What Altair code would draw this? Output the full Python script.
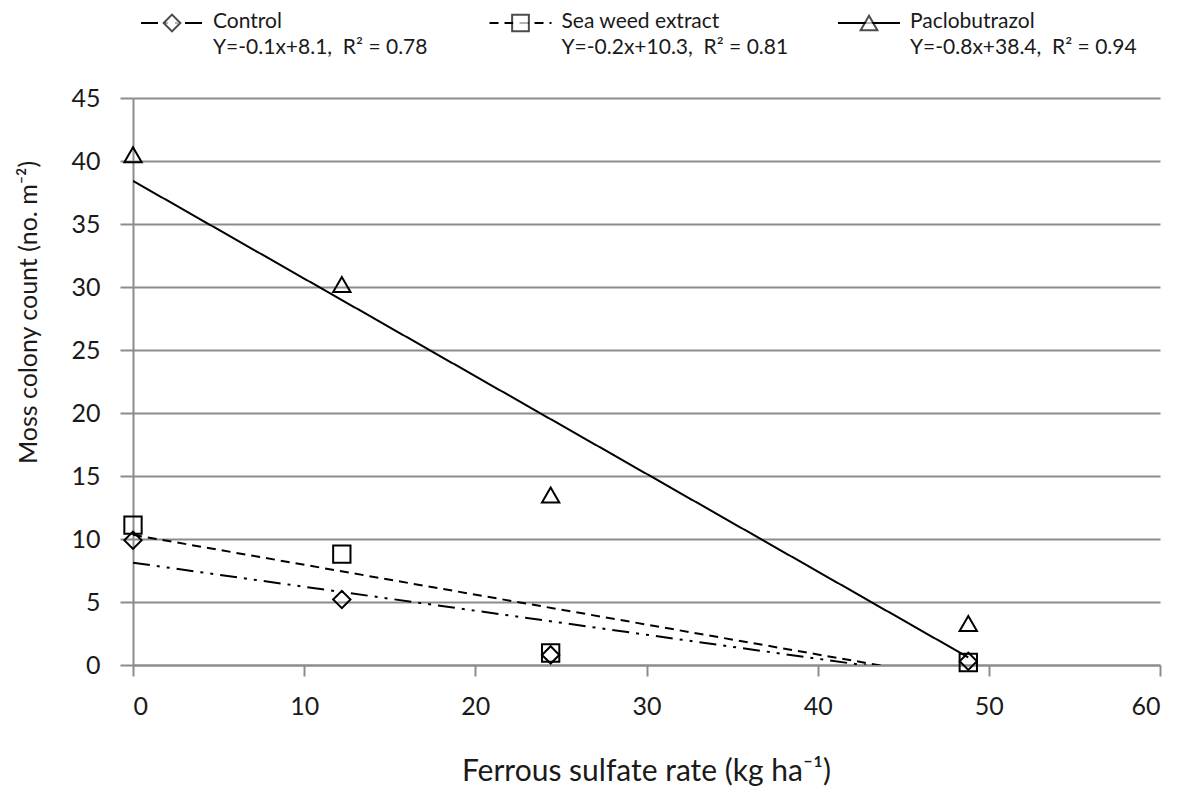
import altair as alt
import pandas as pd

# ---- data ----
series = ["Control", "Sea weed extract", "Paclobutrazol"]
rates = [0, 12.2, 24.4, 48.8]
control = [9.9, 5.2, 0.8, 0.3]
seaweed = [11.1, 8.8, 0.95, 0.2]
paclobutrazol = [40.5, 30.2, 13.5, 3.3]
equations = [
    "Y=-0.1x+8.1,\u00a0\u00a0R\u00b2 = 0.78",
    "Y=-0.2x+10.3,\u00a0\u00a0R\u00b2 = 0.81",
    "Y=-0.8x+38.4,\u00a0\u00a0R\u00b2 = 0.94",
]
x_ticks = [0, 10, 20, 30, 40, 50, 60]
y_ticks = [0, 5, 10, 15, 20, 25, 30, 35, 40, 45]

rows = []
for name, vals in zip(series, [control, seaweed, paclobutrazol]):
    for r, v in zip(rates, vals):
        rows.append({"series": name, "rate": r, "count": v})
df = pd.DataFrame(rows)
legend_df = pd.DataFrame({"series": series, "equation": equations})

FONT = "Lato"
GRAY = "#8c8c8c"
INK = "#1a1a1a"

shape_scale = alt.Scale(domain=series, range=["diamond", "square", "triangle-up"])
dash_scale = alt.Scale(domain=series, range=[[17, 7, 3, 7, 3, 7], [9, 6], [1, 0]])

x_enc = alt.X(
    "rate:Q",
    scale=alt.Scale(domain=[0, 60], nice=False, zero=True),
    axis=alt.Axis(
        values=x_ticks, grid=False, title="Ferrous sulfate rate (kg ha\u207b\u00b9)",
        domainColor=GRAY, domainWidth=2, tickColor=GRAY, tickWidth=2, tickSize=11,
        labelFont=FONT, labelFontSize=25, labelColor=INK, labelPadding=18,
        titleFont=FONT, titleFontSize=30, titleFontWeight="normal", titleColor=INK,
        titleX=513, titleY=106, titleBaseline="middle",
    ),
)
y_enc = alt.Y(
    "count:Q",
    scale=alt.Scale(domain=[0, 45], nice=False),
    axis=alt.Axis(
        values=y_ticks, grid=True, gridColor=GRAY, gridWidth=2,
        title="Moss colony count (no. m\u207b\u00b2)",
        domainColor=GRAY, domainWidth=2, tickColor=GRAY, tickWidth=2, tickSize=13,
        labelFont=FONT, labelFontSize=25, labelColor=INK, labelPadding=20,
        titleFont=FONT, titleFontSize=25, titleFontWeight="normal", titleColor=INK,
        titleX=-105, titleY=214, titleBaseline="middle", titleAngle=270,
    ),
)

base = alt.Chart(df)

trend = base.transform_regression(
    "rate", "count", groupby=["series"]
).mark_line(clip=True, color="black", strokeWidth=2).encode(
    x=x_enc,
    y=y_enc,
    strokeDash=alt.StrokeDash("series:N", scale=dash_scale, legend=None),
)

points = base.mark_point(filled=False, color="black", strokeWidth=2, size=300, opacity=1).encode(
    x=x_enc,
    y=y_enc,
    shape=alt.Shape("series:N", scale=shape_scale, legend=None),
)

main = alt.layer(trend, points)

# ---- legend row above the plot ----
leg_x = alt.X(
    "series:N",
    sort=series,
    scale=alt.Scale(type="point", domain=series, range=[80, 777], padding=0),
    axis=None,
)
leg_base = alt.Chart(legend_df)

leg_rule = leg_base.mark_rule(color="black", strokeWidth=2, xOffset=-72, x2Offset=-10).encode(
    x=leg_x,
    x2=alt.X2("series:N"),
    y=alt.value(-75),
    strokeDash=alt.StrokeDash("series:N", scale=dash_scale, legend=None),
)
leg_sym = leg_base.mark_point(filled=True, fill="white", stroke="black", strokeWidth=2, size=280, xOffset=-41).encode(
    x=leg_x,
    y=alt.value(-75),
    shape=alt.Shape("series:N", scale=shape_scale, legend=None),
)
leg_name = leg_base.mark_text(align="left", baseline="middle", font=FONT, fontSize=21, color=INK).encode(
    x=leg_x, y=alt.value(-76), text="series:N"
)
leg_eq = leg_base.mark_text(align="left", baseline="middle", font=FONT, fontSize=21, color=INK).encode(
    x=leg_x, y=alt.value(-50), text="equation:N"
)
legend = alt.layer(leg_rule, leg_sym, leg_name, leg_eq)

chart = alt.layer(main, legend).resolve_scale(x="independent").properties(
    width=1027,
    height=567,
    padding={"left": 125, "top": 90, "right": 24, "bottom": 125},
    autosize=alt.AutoSizeParams(type="none"),
    background="white",
).configure_view(stroke=None)

chart.save("out.html", embed_options={"renderer": "svg", "actions": False})
